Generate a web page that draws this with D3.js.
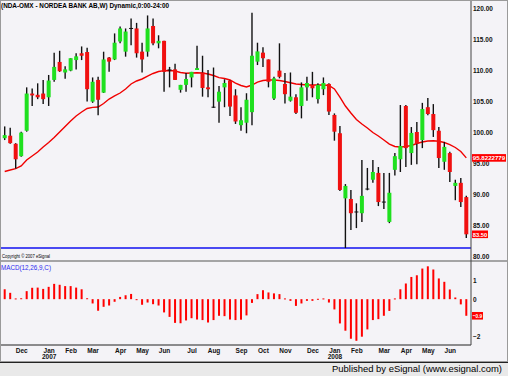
<!DOCTYPE html>
<html>
<head>
<meta charset="utf-8">
<script src="https://cdn.jsdelivr.net/npm/d3@7"></script>
<style>
  body { margin: 0; background: #f4f3f7; }
  svg { display: block; font-family: "Liberation Sans", Arial, sans-serif; }
</style>
</head>
<body>
<div id="chart"></div>
<script>
// weekly candles, first week starting 2006-11-06
const firstWeek = "2006-11-06";
const open  = [99.0, 99.4, 98.1, 96.1, 100.2, 106.2, 106.0, 106.2, 105.6, 108.4, 111.3, 109.6, 109.9, 111.6, 112.7, 112.9, 104.9, 108.4, 106.35, 112.0, 111.7, 114.6, 112.96, 116.7, 116.7, 112.96, 112.96, 117.1, 114.3, 114.7, 110.0, 110.1, 106.8, 107.6, 108.8, 110.0, 109.6, 107.2, 104.0, 104.9, 107.2, 108.3, 105.9, 101.1, 101.5, 103.2, 111.35, 112.8, 111.7, 105.4, 109.9, 107.75, 105.05, 105.6, 104.2, 107.2, 107.6, 105.3, 106.9, 107.75, 102.75, 99.8, 89.3, 89.2, 87.1, 86.9, 90.8, 92.3, 93.4, 88.7, 85.5, 93.9, 95.6, 104.2, 96.6, 100.0, 98.7, 104.0, 102.9, 100.2, 95.2, 96.6, 91.3, 91.8, 89.5];
const high  = [100.9, 100.7, 98.2, 100.05, 107.2, 107.0, 107.85, 108.4, 109.2, 112.8, 113.1, 110.6, 111.9, 112.7, 113.8, 113.6, 108.8, 108.9, 112.95, 112.1, 115.9, 117.0, 116.7, 118.3, 117.6, 114.4, 118.8, 118.3, 115.6, 114.7, 110.5, 111.0, 107.6, 109.5, 109.7, 113.9, 112.3, 110.0, 110.4, 107.4, 108.5, 108.4, 106.9, 104.0, 106.25, 119.25, 114.4, 113.65, 111.7, 108.9, 114.3, 109.5, 109.6, 106.1, 108.0, 108.9, 109.7, 107.85, 108.8, 107.85, 103.0, 100.95, 91.6, 90.65, 88.5, 95.5, 94.2, 95.5, 94.35, 93.4, 93.4, 96.6, 104.35, 104.35, 100.8, 101.6, 104.7, 105.5, 104.5, 100.8, 98.4, 96.8, 92.3, 92.6, 89.7];
const low   = [98.7, 98.1, 94.1, 96.0, 100.05, 104.2, 105.3, 104.5, 104.2, 108.1, 109.7, 108.6, 109.8, 110.1, 111.6, 104.9, 104.7, 102.7, 106.3, 109.7, 111.6, 114.3, 112.15, 114.0, 112.0, 109.6, 112.15, 114.0, 113.5, 106.5, 107.2, 108.4, 106.35, 106.5, 107.2, 110.0, 105.7, 105.6, 103.9, 101.5, 104.0, 102.6, 101.3, 100.2, 99.8, 101.1, 110.8, 110.5, 107.2, 105.15, 108.65, 104.6, 104.9, 102.9, 102.2, 105.05, 105.6, 104.6, 105.95, 102.75, 98.6, 90.5, 81.3, 84.2, 84.5, 85.5, 90.6, 91.8, 88.05, 87.6, 85.3, 93.0, 93.55, 94.35, 94.7, 94.8, 97.4, 102.7, 99.2, 94.2, 93.9, 91.95, 89.0, 87.9, 82.9];
const close = [99.5, 98.2, 95.6, 99.9, 106.2, 105.9, 105.6, 105.3, 108.3, 110.5, 109.8, 110.1, 111.9, 112.2, 112.3, 106.9, 108.1, 105.2, 111.7, 111.35, 114.4, 116.7, 116.2, 116.7, 112.7, 111.7, 116.7, 114.3, 114.7, 109.7, 110.0, 108.4, 107.6, 108.55, 109.7, 110.3, 107.1, 106.9, 104.0, 106.5, 107.9, 104.1, 101.7, 101.9, 105.2, 112.3, 113.0, 111.9, 108.1, 108.65, 108.9, 106.1, 105.7, 103.1, 107.2, 107.9, 107.05, 107.6, 107.9, 103.3, 100.05, 90.65, 91.3, 86.9, 87.1, 89.7, 90.8, 93.55, 88.7, 88.7, 90.2, 96.1, 97.75, 97.4, 99.85, 98.1, 103.7, 102.9, 100.3, 95.8, 97.6, 93.55, 91.8, 88.7, 83.5];
// moving average (red line)
const avg   = [93.63, 93.87, 94.08, 94.52, 95.48, 96.13, 96.77, 97.58, 98.31, 99.11, 100.0, 100.89, 101.77, 102.58, 103.23, 103.79, 103.98, 104.03, 104.6, 105.32, 105.81, 106.29, 106.94, 107.74, 108.23, 108.55, 109.03, 109.44, 109.76, 109.89, 109.92, 109.84, 109.6, 109.47, 109.52, 109.56, 109.52, 109.35, 109.11, 108.76, 108.63, 108.39, 107.9, 107.5, 107.26, 107.58, 108.06, 108.31, 108.39, 108.39, 108.31, 108.15, 107.95, 107.74, 107.66, 107.58, 107.58, 107.58, 107.58, 107.5, 106.94, 105.64, 104.19, 103.06, 102.02, 101.29, 100.65, 99.92, 99.35, 98.71, 98.06, 97.66, 97.58, 97.66, 97.82, 98.15, 98.39, 98.55, 98.6, 98.5, 98.31, 97.98, 97.5, 96.85, 95.8222779];
// MACD(12,26,9) histogram
const macd  = [0.53, 0.34, 0.04, 0.05, 0.43, 0.61, 0.62, 0.55, 0.66, 0.82, 0.77, 0.70, 0.70, 0.62, 0.53, 0.05, -0.23, -0.62, -0.41, -0.34, -0.14, 0.12, 0.21, 0.28, -0.05, -0.30, -0.18, -0.27, -0.34, -0.71, -0.95, -1.27, -1.29, -1.14, -1.02, -1.09, -1.12, -1.25, -1.12, -0.89, -0.91, -1.09, -1.12, -1.10, -0.87, -0.20, 0.27, 0.48, 0.36, 0.31, 0.27, 0.04, -0.09, -0.36, -0.23, -0.09, -0.09, 0.02, 0.04, -0.18, -0.55, -1.30, -1.69, -2.12, -2.23, -2.01, -1.62, -1.12, -1.07, -0.89, -0.63, 0.04, 0.53, 0.84, 1.19, 1.28, 1.64, 1.76, 1.59, 1.11, 0.93, 0.52, 0.09, -0.28, -0.89];

const priceTicks = [80, 85, 90, 95, 100, 105, 110, 115, 120];
const macdTicks = [1, 0, -2];
const monthTicks = [
  ["2006-11-27", "Dec"], ["2007-01-01", "Jan"], ["2007-01-29", "Feb"], ["2007-02-26", "Mar"],
  ["2007-04-02", "Apr"], ["2007-04-30", "May"], ["2007-05-28", "Jun"], ["2007-07-02", "Jul"],
  ["2007-07-30", "Aug"], ["2007-09-03", "Sep"], ["2007-10-01", "Oct"], ["2007-10-29", "Nov"],
  ["2007-12-03", "Dec"], ["2007-12-31", "Jan"], ["2008-01-28", "Feb"], ["2008-03-03", "Mar"],
  ["2008-03-31", "Apr"], ["2008-04-28", "May"], ["2008-05-26", "Jun"]
];
const yearTicks = [["2007-01-01", "2007"], ["2007-12-31", "2008"]];

const fmt = d3.utcFormat("%Y-%m-%d");
const start = d3.utcParse("%Y-%m-%d")(firstWeek);
const weeks = d3.utcMonday.range(start, d3.utcMonday.offset(start, close.length)).map(fmt);

const data = weeks.map((w, i) => ({
  week: w, o: open[i], h: high[i], l: low[i], c: close[i], ma: avg[i], m: macd[i]
}));

const W = 508, H = 376;
const axisX = 471;

const svg = d3.select('#chart')
  .append('svg')
  .attr('width', W)
  .attr('height', H);

svg.append('rect')
  .attr('width', W).attr('height', H)
  .attr('fill', '#f4f3f7');

const x = d3.scalePoint().domain(weeks).range([4.7, 466.3]);
const y = d3.scaleLinear().domain([80, 120]).range([256, 8]);
const ym = d3.scaleLinear().domain([-2, 1]).range([336.5, 280.5]);

// title
svg.append('text')
  .attr('x', 1).attr('y', 7.5)
  .attr('font-size', 7).attr('font-weight', 'bold')
  .attr('textLength', 168).attr('lengthAdjust', 'spacingAndGlyphs')
  .text('(NDA-OMX - NORDEA BANK AB,W) Dynamic,0:00-24:00');

// lowest low line
svg.append('line')
  .attr('x1', 0).attr('x2', axisX)
  .attr('y1', y(d3.min(low))).attr('y2', y(d3.min(low)))
  .attr('stroke', '#1010f0').attr('stroke-width', 1.6);

// moving average
svg.append('path')
  .datum(data)
  .attr('fill', 'none')
  .attr('stroke', '#f00000')
  .attr('stroke-width', 1.4)
  .attr('d', d3.line().x(d => x(d.week)).y(d => y(d.ma)));

// candles
const candle = svg.append('g').selectAll('g')
  .data(data)
  .enter()
  .append('g');

candle.append('line')
  .attr('x1', d => x(d.week)).attr('x2', d => x(d.week))
  .attr('y1', d => y(d.h)).attr('y2', d => y(d.l))
  .attr('stroke', '#111').attr('stroke-width', 1.4);

candle.append('rect')
  .attr('x', d => x(d.week) - 2)
  .attr('width', 4)
  .attr('y', d => d.o === d.c ? y(d.c) - 0.5 : y(Math.max(d.o, d.c)))
  .attr('height', d => d.o === d.c ? 1 : Math.abs(y(d.o) - y(d.c)))
  .attr('fill', d => d.c > d.o ? '#1fe01f' : d.c < d.o ? '#f01010' : '#111');

// copyright
svg.append('text')
  .attr('x', 2).attr('y', 258)
  .attr('font-size', 5)
  .attr('textLength', 48).attr('lengthAdjust', 'spacingAndGlyphs')
  .text('Copyright © 2007 eSignal');

// panel separator
svg.append('line')
  .attr('x1', 0).attr('x2', W)
  .attr('y1', 261).attr('y2', 261)
  .attr('stroke', '#8a8a8a').attr('stroke-width', 1.5);

// MACD
svg.append('text')
  .attr('x', 1).attr('y', 270)
  .attr('font-size', 8)
  .attr('fill', '#2a2af0')
  .attr('textLength', 50).attr('lengthAdjust', 'spacingAndGlyphs')
  .text('MACD(12,26,9,C)');

svg.append('g').selectAll('rect')
  .data(data)
  .enter()
  .append('rect')
  .attr('x', d => x(d.week) - 1)
  .attr('width', 2)
  .attr('y', d => Math.min(ym(0), ym(d.m)))
  .attr('height', d => Math.max(1, Math.abs(ym(d.m) - ym(0))))
  .attr('fill', '#ff0000');

// x axis line + labels
svg.append('line')
  .attr('x1', 0).attr('x2', axisX)
  .attr('y1', 345).attr('y2', 345)
  .attr('stroke', '#222').attr('stroke-width', 1);

const xAxis = svg.append('g')
  .attr('transform', 'translate(0,345)')
  .call(d3.axisBottom(x)
    .tickValues(monthTicks.map(d => d[0]))
    .tickFormat(w => monthTicks.find(d => d[0] === w)[1])
    .tickSize(0).tickPadding(3));
xAxis.select('.domain').remove();
xAxis.selectAll('text')
  .attr('font-size', 6.5).attr('font-weight', 'bold')
  .attr('font-family', '"Liberation Sans", Arial, sans-serif')
  .attr('fill', '#111');

const yearAxis = svg.append('g')
  .attr('transform', 'translate(0,353)')
  .call(d3.axisBottom(x)
    .tickValues(yearTicks.map(d => d[0]))
    .tickFormat(w => yearTicks.find(d => d[0] === w)[1])
    .tickSize(0).tickPadding(1));
yearAxis.select('.domain').remove();
yearAxis.selectAll('text')
  .attr('font-size', 6.5).attr('font-weight', 'bold')
  .attr('font-family', '"Liberation Sans", Arial, sans-serif')
  .attr('fill', '#111');

// right axes
svg.append('line')
  .attr('x1', axisX).attr('x2', axisX)
  .attr('y1', 0).attr('y2', 345)
  .attr('stroke', '#444').attr('stroke-width', 1);

const pAxis = svg.append('g')
  .attr('transform', `translate(${axisX},0)`)
  .call(d3.axisRight(y).tickValues(priceTicks).tickFormat(d3.format('.2f')).tickSize(0).tickPadding(2));
pAxis.select('.domain').remove();
pAxis.selectAll('text')
  .attr('font-size', 6.5).attr('font-weight', 'bold')
  .attr('font-family', '"Liberation Sans", Arial, sans-serif')
  .attr('fill', '#111');

const mAxis = svg.append('g')
  .attr('transform', `translate(${axisX},0)`)
  .call(d3.axisRight(ym).tickValues(macdTicks).tickFormat(d3.format('d')).tickSize(0).tickPadding(2));
mAxis.select('.domain').remove();
mAxis.selectAll('text')
  .attr('font-size', 6.5).attr('font-weight', 'bold')
  .attr('font-family', '"Liberation Sans", Arial, sans-serif')
  .attr('fill', '#111');

// last value tags
function tag(yv, label, w) {
  svg.append('rect')
    .attr('x', axisX + 1).attr('y', yv - 3.8)
    .attr('width', w).attr('height', 7.6)
    .attr('fill', '#ff0000');
  svg.append('text')
    .attr('x', axisX + 1.8).attr('y', yv + 2.3)
    .attr('font-size', 6.2).attr('font-weight', 'bold')
    .attr('fill', '#fff')
    .attr('textLength', w - 1.6).attr('lengthAdjust', 'spacingAndGlyphs')
    .text(label);
}
const last = data[data.length - 1];
tag(y(last.ma), String(last.ma), 34);
tag(y(last.c), d3.format('.2f')(last.c), 16);
tag(ym(last.m), d3.format('.1f')(last.m), 11);

// footer
svg.append('rect')
  .attr('x', 0).attr('y', 362)
  .attr('width', W).attr('height', H - 362)
  .attr('fill', '#e9e9e9');
svg.append('line')
  .attr('x1', 0).attr('x2', W)
  .attr('y1', 362.5).attr('y2', 362.5)
  .attr('stroke', '#222').attr('stroke-width', 1);
svg.append('text')
  .attr('x', 332).attr('y', 372)
  .attr('font-size', 9)
  .attr('font-family', '"Liberation Sans", Arial, sans-serif')
  .attr('textLength', 170).attr('lengthAdjust', 'spacingAndGlyphs')
  .text('Published by eSignal (www.esignal.com)');

// outer border
svg.append('rect')
  .attr('x', 0.5).attr('y', 0.5)
  .attr('width', W - 1).attr('height', 361)
  .attr('fill', 'none')
  .attr('stroke', '#9a9a9a');
</script>
</body>
</html>
